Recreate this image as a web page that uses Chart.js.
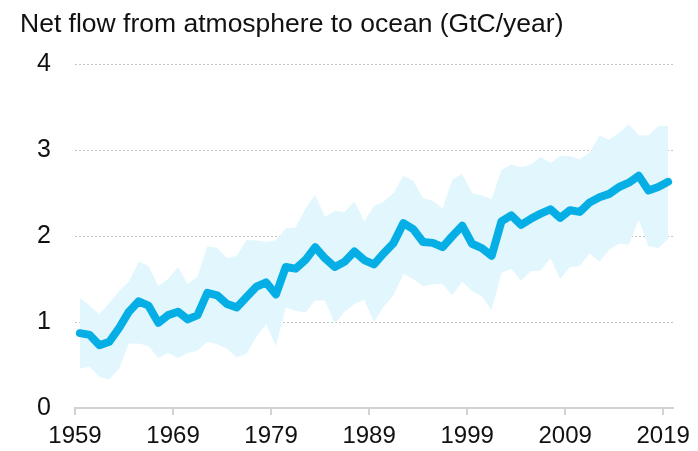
<!DOCTYPE html>
<html>
<head>
<meta charset="utf-8">
<script src="https://cdn.jsdelivr.net/npm/chart.js@4/dist/chart.umd.min.js"></script>
<style>
  body { margin: 0; background: #fff; }
  #wrap { width: 698px; height: 451px; position: relative; }
</style>
</head>
<body>
<div id="wrap"><canvas id="oceanChart"></canvas></div>
<script>
// Ocean carbon sink, 1959-2019
const years = [];
for (let y = 1959; y <= 2019; y++) years.push(y);

const flux = [0.87, 0.85, 0.73, 0.77, 0.93, 1.12, 1.24, 1.19, 0.99, 1.08,
              1.12, 1.03, 1.08, 1.34, 1.31, 1.21, 1.17, 1.29, 1.41, 1.46,
              1.32, 1.64, 1.62, 1.72, 1.87, 1.74, 1.64, 1.70, 1.82, 1.72,
              1.67, 1.80, 1.92, 2.15, 2.08, 1.93, 1.92, 1.87, 2.00, 2.12,
              1.91, 1.86, 1.77, 2.17, 2.24, 2.13, 2.20, 2.26, 2.31, 2.21,
              2.30, 2.28, 2.39, 2.45, 2.49, 2.57, 2.62, 2.70, 2.53, 2.57,
              2.63];

const upper = [1.28, 1.19, 1.09, 1.22, 1.36, 1.47, 1.70, 1.65, 1.42, 1.50,
               1.64, 1.44, 1.53, 1.88, 1.86, 1.74, 1.77, 1.95, 1.95, 1.93,
               1.95, 2.09, 2.10, 2.32, 2.48, 2.22, 2.29, 2.28, 2.40, 2.17,
               2.35, 2.40, 2.50, 2.70, 2.64, 2.44, 2.41, 2.32, 2.66, 2.72,
               2.50, 2.47, 2.43, 2.77, 2.83, 2.80, 2.83, 2.92, 2.85, 2.93,
               2.93, 2.89, 2.97, 3.17, 3.12, 3.20, 3.30, 3.17, 3.17, 3.28,
               3.28];

const lower = [0.46, 0.48, 0.36, 0.33, 0.46, 0.75, 0.75, 0.72, 0.58, 0.64,
               0.58, 0.64, 0.67, 0.77, 0.74, 0.69, 0.59, 0.63, 0.83, 0.97,
               0.72, 1.17, 1.13, 1.11, 1.25, 1.25, 0.98, 1.12, 1.21, 1.26,
               1.00, 1.18, 1.31, 1.56, 1.50, 1.42, 1.44, 1.44, 1.31, 1.47,
               1.36, 1.30, 1.14, 1.57, 1.62, 1.48, 1.59, 1.60, 1.74, 1.50,
               1.64, 1.65, 1.80, 1.70, 1.84, 1.91, 1.90, 2.19, 1.88, 1.86,
               1.97];

const xTicks = [1959, 1969, 1979, 1989, 1999, 2009, 2019];
const yTicks = [0, 1, 2, 3, 4];
const title = 'Net flow from atmosphere to ocean (GtC/year)';

// annual values sit in the middle of each year
const pts = arr => arr.map((v, i) => ({ x: years[i] + 0.5, y: v }));

const FONT = '"Liberation Sans", Arial, sans-serif';

const titlePlugin = {
    id: 'topTitle',
    afterDraw(chart) {
        const ctx = chart.ctx;
        ctx.save();
        ctx.font = '26.5px ' + FONT;
        ctx.fillStyle = '#111';
        ctx.textBaseline = 'alphabetic';
        ctx.fillText(title, 20, 32);
        ctx.restore();
    }
};

const ctx = document.getElementById('oceanChart').getContext('2d');
const oceanChart = new Chart(ctx, {
    type: 'line',
    data: {
        datasets: [
            {
                label: 'Flux',
                data: pts(flux),
                borderColor: '#05aee4',
                borderWidth: 8,
                borderCapStyle: 'round',
                borderJoinStyle: 'round',
                pointRadius: 0,
                fill: false,
                order: 0
            },
            {
                label: 'Upper',
                data: pts(upper),
                borderWidth: 0,
                pointRadius: 0,
                backgroundColor: '#e1f6fd',
                fill: '+1',
                order: 2
            },
            {
                label: 'Lower',
                data: pts(lower),
                borderWidth: 0,
                pointRadius: 0,
                backgroundColor: '#e1f6fd',
                fill: false,
                order: 3
            }
        ]
    },
    options: {
        responsive: true,
        maintainAspectRatio: false,
        animation: false,
        layout: { padding: { top: 64, right: 25, left: 0, bottom: 0 } },
        plugins: {
            legend: { display: false },
            tooltip: { enabled: false }
        },
        scales: {
            x: {
                type: 'linear',
                min: 1959,
                max: 2020,
                afterBuildTicks: s => { s.ticks = xTicks.map(v => ({ value: v })); },
                afterFit: s => { s.height = 43; },
                border: { display: true, color: '#d2d2d2', width: 2 },
                grid: {
                    drawOnChartArea: false,
                    drawTicks: true,
                    tickLength: 7,
                    color: '#d2d2d2',
                    lineWidth: 2
                },
                ticks: {
                    padding: 7,
                    maxRotation: 0,
                    autoSkip: false,
                    color: '#111',
                    font: { family: FONT, size: 24 },
                    callback: v => String(v)
                }
            },
            y: {
                min: 0,
                max: 4,
                afterBuildTicks: s => { s.ticks = yTicks.map(v => ({ value: v })); },
                afterFit: s => { s.width = 75; },
                border: { display: false, dash: [2, 2] },
                grid: {
                    drawTicks: false,
                    color: c => c.tick && c.tick.value === 0 ? 'rgba(0,0,0,0)' : '#c4c4c4',
                    lineWidth: 1
                },
                ticks: {
                    padding: 24,
                    color: '#111',
                    font: { family: FONT, size: 25 }
                }
            }
        }
    },
    plugins: [titlePlugin]
});
</script>
</body>
</html>
